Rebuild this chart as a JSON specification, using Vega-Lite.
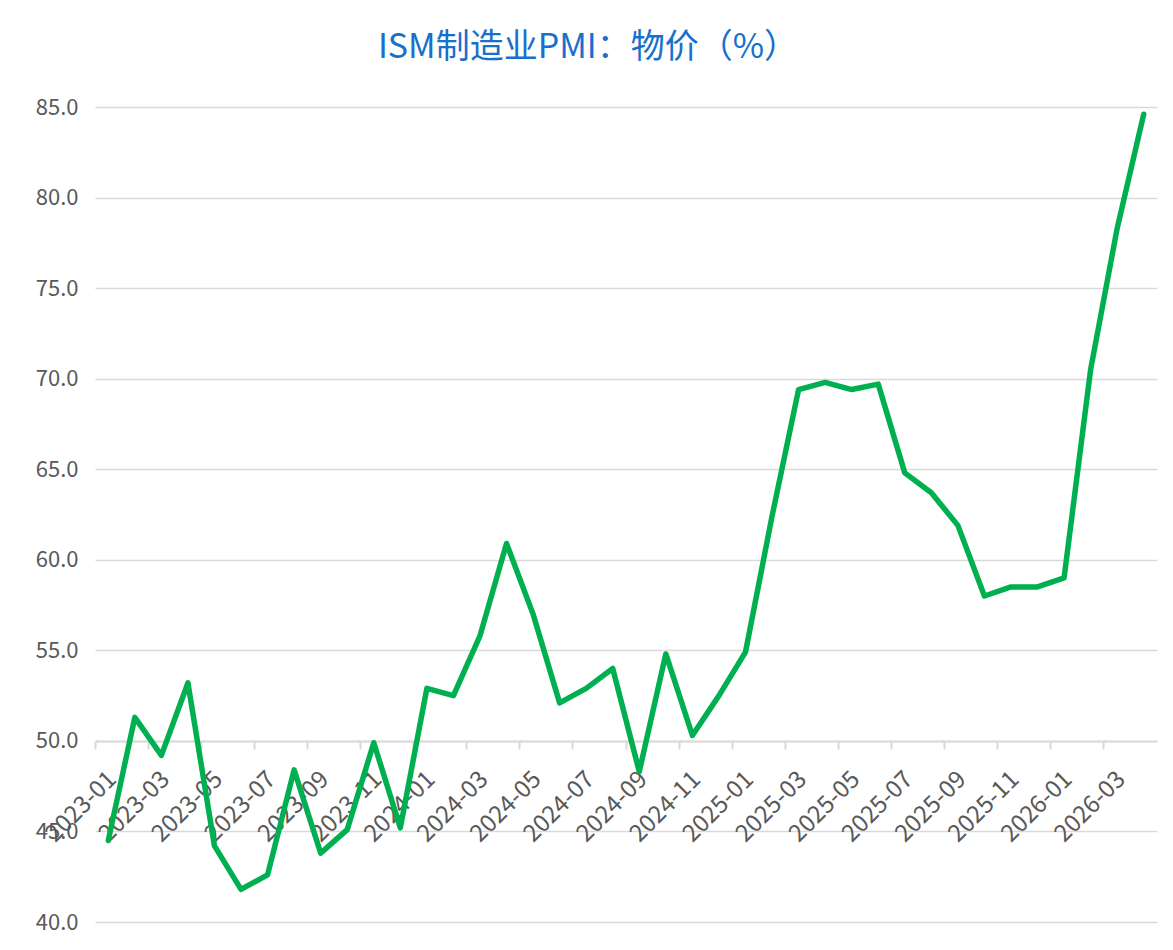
{
  "$schema": "https://vega.github.io/schema/vega-lite/v6.json",
  "width": 1062,
  "height": 815,
  "autosize": {"type": "none"},
  "padding": {"left": 95, "top": 107, "right": 16, "bottom": 28},
  "background": "white",
  "title": {
    "text": "ISM制造业PMI：物价（%）",
    "color": "#1670cc",
    "fontSize": 34,
    "font": "Noto Sans CJK SC",
    "fontWeight": "normal",
    "anchor": "middle",
    "baseline": "alphabetic",
    "offset": 4,
    "dx": -38
  },
  "config": {
    "view": {"stroke": null},
    "font": "Noto Sans CJK SC"
  },
  "data": {
    "values": [
      {"month": "2023-01", "value": 44.5},
      {"month": "2023-02", "value": 51.3},
      {"month": "2023-03", "value": 49.2},
      {"month": "2023-04", "value": 53.2},
      {"month": "2023-05", "value": 44.2},
      {"month": "2023-06", "value": 41.8},
      {"month": "2023-07", "value": 42.6},
      {"month": "2023-08", "value": 48.4},
      {"month": "2023-09", "value": 43.8},
      {"month": "2023-10", "value": 45.1},
      {"month": "2023-11", "value": 49.9},
      {"month": "2023-12", "value": 45.2},
      {"month": "2024-01", "value": 52.9},
      {"month": "2024-02", "value": 52.5},
      {"month": "2024-03", "value": 55.8},
      {"month": "2024-04", "value": 60.9},
      {"month": "2024-05", "value": 57.0},
      {"month": "2024-06", "value": 52.1},
      {"month": "2024-07", "value": 52.9},
      {"month": "2024-08", "value": 54.0},
      {"month": "2024-09", "value": 48.3},
      {"month": "2024-10", "value": 54.8},
      {"month": "2024-11", "value": 50.3},
      {"month": "2024-12", "value": 52.5},
      {"month": "2025-01", "value": 54.9},
      {"month": "2025-02", "value": 62.4},
      {"month": "2025-03", "value": 69.4},
      {"month": "2025-04", "value": 69.8},
      {"month": "2025-05", "value": 69.4},
      {"month": "2025-06", "value": 69.7},
      {"month": "2025-07", "value": 64.8},
      {"month": "2025-08", "value": 63.7},
      {"month": "2025-09", "value": 61.9},
      {"month": "2025-10", "value": 58.0},
      {"month": "2025-11", "value": 58.5},
      {"month": "2025-12", "value": 58.5},
      {"month": "2026-01", "value": 59.0},
      {"month": "2026-02", "value": 70.5},
      {"month": "2026-03", "value": 78.3},
      {"month": "2026-04", "value": 84.6}
    ]
  },
  "mark": {
    "type": "line",
    "color": "#00b050",
    "strokeWidth": 5.5,
    "strokeJoin": "round",
    "strokeCap": "round"
  },
  "encoding": {
    "x": {
      "field": "month",
      "type": "ordinal",
      "bandPosition": 0.5,
      "scale": {"type": "band", "paddingInner": 0, "paddingOuter": 0},
      "axis": {
        "title": null,
        "values": ["2023-01", "2023-03", "2023-05", "2023-07", "2023-09", "2023-11", "2024-01", "2024-03", "2024-05", "2024-07", "2024-09", "2024-11", "2025-01", "2025-03", "2025-05", "2025-07", "2025-09", "2025-11", "2026-01", "2026-03"],
        "offset": -181,
        "grid": false,
        "bandPosition": 0,
        "domainColor": "#d9d9d9",
        "domainWidth": 2,
        "tickColor": "#d9d9d9",
        "tickWidth": 2,
        "tickSize": 8,
        "labelAngle": -45,
        "labelAlign": "right",
        "labelBaseline": "top",
        "labelFontSize": 24,
        "labelColor": "#595959",
        "labelPadding": 18,
        "labelOffset": -4,
        "labelOverlap": false,
        "labelFlush": false,
        "labelBound": false
      }
    },
    "y": {
      "field": "value",
      "type": "quantitative",
      "scale": {"domain": [40, 85], "nice": false, "zero": false},
      "axis": {
        "title": null,
        "values": [40, 45, 50, 55, 60, 65, 70, 75, 80, 85],
        "format": ".1f",
        "domain": false,
        "ticks": false,
        "grid": true,
        "gridColor": "#d9d9d9",
        "gridWidth": 1.5,
        "labelFontSize": 22,
        "labelColor": "#595959",
        "labelPadding": 17
      }
    }
  }
}
